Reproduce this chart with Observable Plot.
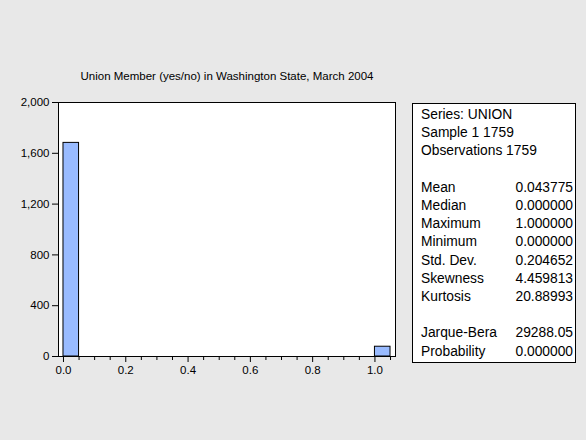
<!DOCTYPE html>
<html><head><meta charset="utf-8">
<script src="https://cdn.jsdelivr.net/npm/d3@7"></script>
<script src="https://cdn.jsdelivr.net/npm/@observablehq/plot@0.6"></script>
<style>
html,body{margin:0;padding:0;background:#e8e8e8;}
#wrap{position:relative;width:586px;height:440px;background:#e8e8e8;overflow:hidden;}
#wrap svg{position:absolute;left:0;top:0;}
#stats{position:absolute;left:412px;top:103px;width:164px;height:260px;box-sizing:border-box;border:1px solid #000;background:#fff;font-family:"Liberation Sans",Arial,sans-serif;font-size:13.8px;color:#000;}
.row{position:absolute;left:8px;right:2px;height:18px;line-height:18px;display:flex;justify-content:space-between;white-space:nowrap;}
</style></head><body>
<div id="wrap"><div id="stats"></div></div>
<script>
// Histogram bins (UNION: 0 = no, 1 = yes)
const binStart = [0.0, 1.0];
const binEnd = [0.05, 1.05];
const counts = [1682, 77];

const yTicks = [0, 400, 800, 1200, 1600, 2000];
const xMajorTicks = [0.0, 0.2, 0.4, 0.6, 0.8, 1.0];
const xMinorTicks = [0.05, 0.1, 0.15, 0.25, 0.3, 0.35, 0.45, 0.5, 0.55, 0.65, 0.7, 0.75, 0.85, 0.9, 0.95, 1.05];

const titleText = "Union Member (yes/no) in Washington State, March 2004";

const headerLines = ["Series: UNION", "Sample 1 1759", "Observations 1759"];
const statLabels = ["Mean", "Median", "Maximum", "Minimum", "Std. Dev.", "Skewness", "Kurtosis"];
const statValues = ["0.043775", "0.000000", "1.000000", "0.000000", "0.204652", "4.459813", "20.88993"];
const testLabels = ["Jarque-Bera", "Probability"];
const testValues = ["29288.05", "0.000000"];

const bins = binStart.map((s, i) => ({x1: s, x2: binEnd[i], y: counts[i]}));

const chart = Plot.plot({
  width: 586,
  height: 440,
  marginLeft: 58,
  marginRight: 191,
  marginTop: 102,
  marginBottom: 84,
  style: {background: "#e8e8e8", fontFamily: "'Liberation Sans', Arial, sans-serif", fontSize: "11.5px", color: "#000"},
  x: {domain: [-0.016, 1.066]},
  y: {domain: [0, 2000]},
  marks: [
    Plot.frame({fill: "#fff", stroke: null}),
    Plot.rectY(bins, {x1: "x1", x2: "x2", y: "y", fill: "#99bbff", stroke: "#000", strokeWidth: 1}),
    Plot.frame({stroke: "#000", strokeWidth: 1}),
    Plot.axisY({ticks: yTicks, tickSize: 6, tickPadding: 3, tickFormat: d3.format(","), label: null, stroke: "#000"}),
    Plot.axisX({ticks: xMajorTicks, tickSize: 6, tickPadding: 3, tickFormat: d3.format(".1f"), label: null, stroke: "#000"}),
    Plot.axisX({ticks: xMinorTicks, tickSize: 4, tickFormat: () => "", label: null, stroke: "#000"}),
    Plot.text([titleText], {frameAnchor: "top", lineAnchor: "middle", dy: -26, fontSize: 11.5, fill: "#000"})
  ]
});
const wrap = document.getElementById("wrap");
wrap.insertBefore(chart, wrap.firstChild);

// Statistics box
const stats = document.getElementById("stats");
const lineStep = 18.2;
const firstCenter = 12;
const rows = [];
headerLines.forEach(t => rows.push([t, ""]));
rows.push(null);
statLabels.forEach((t, i) => rows.push([t, statValues[i]]));
rows.push(null);
testLabels.forEach((t, i) => rows.push([t, testValues[i]]));
rows.forEach((r, i) => {
  if (!r) return;
  const div = document.createElement("div");
  div.className = "row";
  div.style.top = (firstCenter + i * lineStep - 9 - 1) + "px";
  const a = document.createElement("span"); a.textContent = r[0];
  const b = document.createElement("span"); b.textContent = r[1];
  div.appendChild(a); div.appendChild(b);
  stats.appendChild(div);
});
</script>
</body></html>
